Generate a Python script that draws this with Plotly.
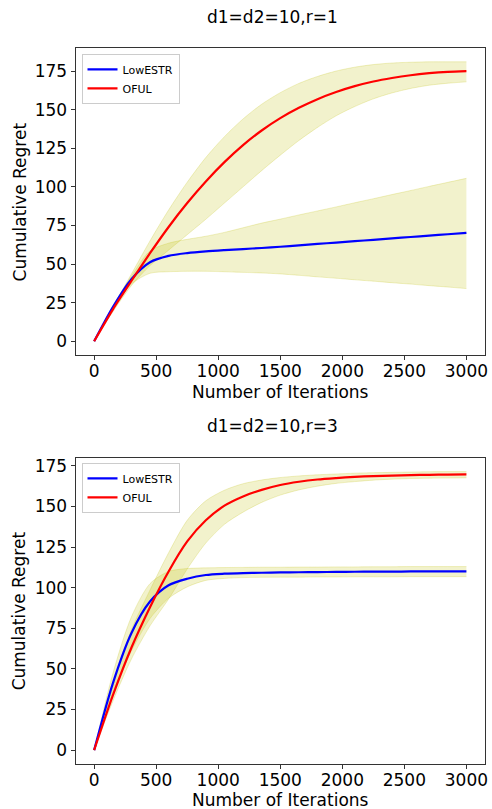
import plotly.graph_objects as go

# ---------------- data ----------------
iters = [0, 150, 300, 450, 600, 750, 900, 1050, 1200, 1350, 1500,
         1650, 1800, 1950, 2100, 2250, 2400, 2550, 2700, 2850, 3000]

# r = 1
lowestr_r1 = [0, 22, 40.2, 51.2, 55.3, 57.1, 58.2, 59, 59.7, 60.4, 61.2,
              62.1, 63, 63.9, 64.8, 65.7, 66.6, 67.5, 68.4, 69.3, 70.2]
lowestr_r1_hi = [0, 23, 42, 58.5, 63.5, 66, 68, 70.5, 73.5, 76.5, 79.1,
                 81.8, 84.4, 87, 89.7, 92.3, 95, 97.6, 100.3, 102.9, 105.5]
lowestr_r1_lo = [0, 21, 37, 44, 45, 45.3, 45.3, 45, 44.6, 44.2, 43.6,
                 42.7, 41.7, 40.8, 39.8, 38.9, 37.9, 37, 36, 35.1, 34.1]
oful_r1 = [0, 20.5, 39, 57, 74, 89.5, 103.5, 116, 127, 136.5, 144.5,
           151.2, 156.8, 161.4, 165.2, 168.2, 170.5, 172.3, 173.6, 174.5, 175]
oful_r1_hi = [0, 22, 43.5, 65, 85, 103, 119, 132.5, 144, 153.5, 161,
              167, 171.5, 175, 177.5, 179.2, 180.2, 180.7, 181, 181, 181]
oful_r1_lo = [0, 19, 36, 49, 59, 69, 79, 89.5, 100, 110.5, 120.5,
              130, 138.5, 146, 152, 157, 160.8, 163.7, 165.8, 167.1, 168]

# r = 3
lowestr_r3 = [0, 41, 72, 91.5, 101.5, 105.5, 107.8, 108.6, 109, 109.2, 109.4,
              109.5, 109.6, 109.7, 109.8, 109.9, 109.9, 110, 110, 110, 110]
lowestr_r3_hi = [0, 47, 82, 102.5, 110, 111.8, 112.2, 112.4, 112.5, 112.6, 112.6,
                 112.7, 112.7, 112.8, 112.8, 112.9, 112.9, 113, 113, 113, 113]
lowestr_r3_lo = [0, 35, 61, 81, 93.5, 100.5, 104.5, 105.7, 106.2, 106.4, 106.5,
                 106.5, 106.6, 106.6, 106.7, 106.7, 106.7, 106.8, 106.8, 106.8, 106.8]
oful_r3 = [0, 33.5, 63, 88, 110, 128.5, 141.5, 150.5, 156.2, 160.2, 163.2,
           165.2, 166.6, 167.5, 168.2, 168.7, 169, 169.3, 169.5, 169.6, 169.7]
oful_r3_hi = [0, 39, 74, 98.5, 121.5, 141.5, 153.5, 160, 164, 166.3, 167.8,
              168.8, 169.5, 170, 170.5, 170.8, 171, 171.2, 171.4, 171.5, 171.5]
oful_r3_lo = [0, 30, 56, 76.5, 93, 111.5, 127.5, 139, 146.5, 152.5, 157,
              160.2, 162.5, 164.2, 165.3, 166.2, 166.8, 167.2, 167.4, 167.5, 167.6]

titles = ["d1=d2=10,r=1", "d1=d2=10,r=3"]
x_title = "Number of Iterations"
y_title = "Cumulative Regret"
names = ["LowESTR", "OFUL"]
x_ticks = [0, 500, 1000, 1500, 2000, 2500, 3000]
y_ticks = [0, 25, 50, 75, 100, 125, 150, 175]

# ---------------- figure ----------------
W, H = 492, 809
BAND = "rgba(191,191,0,0.2)"
BAND_EDGE = "rgba(191,191,0,0.22)"
FONT = "DejaVu Sans"

fig = go.Figure()

panels = [
    dict(xa="x", ya="y", legend="legend",
         series=[(lowestr_r1, lowestr_r1_hi, lowestr_r1_lo, "blue"),
                 (oful_r1, oful_r1_hi, oful_r1_lo, "red")]),
    dict(xa="x2", ya="y2", legend="legend2",
         series=[(lowestr_r3, lowestr_r3_hi, lowestr_r3_lo, "blue"),
                 (oful_r3, oful_r3_hi, oful_r3_lo, "red")]),
]

for p in panels:
    for mean, hi, lo, col in p["series"]:
        fig.add_trace(go.Scatter(x=iters, y=lo, mode="lines",
                                 line=dict(color=BAND_EDGE, width=1, shape="spline", smoothing=0.8),
                                 xaxis=p["xa"], yaxis=p["ya"], showlegend=False, hoverinfo="skip"))
        fig.add_trace(go.Scatter(x=iters, y=hi, mode="lines",
                                 line=dict(color=BAND_EDGE, width=1, shape="spline", smoothing=0.8),
                                 fill="tonexty", fillcolor=BAND,
                                 xaxis=p["xa"], yaxis=p["ya"], showlegend=False, hoverinfo="skip"))
    for (mean, hi, lo, col), nm in zip(p["series"], names):
        fig.add_trace(go.Scatter(x=iters, y=mean, mode="lines", name=nm,
                                 line=dict(color=col, width=2.2, shape="spline", smoothing=0.8),
                                 xaxis=p["xa"], yaxis=p["ya"], legend=p["legend"]))

axis_common = dict(showline=True, linecolor="#333333", linewidth=1, mirror=True,
                   ticks="outside", ticklen=4, tickcolor="#333333", showgrid=False, zeroline=False,
                   tickfont=dict(family=FONT, size=17, color="black"))
xaxis_extra = dict(ticklabelstandoff=-4)

xdom = [76 / W, 488 / W]
leg_common = dict(xanchor="left", yanchor="top", traceorder="normal",
                  bgcolor="rgba(255,255,255,0.8)", bordercolor="#cccccc", borderwidth=1,
                  font=dict(family=FONT, size=11, color="black"), itemwidth=30, tracegroupgap=0)
fig.update_layout(
    width=W, height=H,
    margin=dict(l=0, r=0, t=0, b=0),
    paper_bgcolor="white", plot_bgcolor="white",
    font=dict(family=FONT, color="black"),
    xaxis=dict(domain=xdom, range=[-150, 3150], tickvals=x_ticks, anchor="y", **axis_common, **xaxis_extra),
    yaxis=dict(domain=[1 - 354 / H, 1 - 46 / H], range=[-9, 190], tickvals=y_ticks, anchor="x", **axis_common),
    xaxis2=dict(domain=xdom, range=[-150, 3150], tickvals=x_ticks, anchor="y2", **axis_common, **xaxis_extra),
    yaxis2=dict(domain=[1 - 764 / H, 1 - 456.7 / H], range=[-8.6, 180.1], tickvals=y_ticks, anchor="x2", **axis_common),
    legend=dict(x=82 / W, y=1 - 52 / H, **leg_common),
    legend2=dict(x=82 / W, y=1 - 462 / H, **leg_common),
)

ann = []
for t, ypx in zip(titles, [15, 425]):
    ann.append(dict(text=t, x=274 / W, y=1 - ypx / H, xref="paper", yref="paper",
                    showarrow=False, xanchor="center", yanchor="middle",
                    font=dict(family=FONT, size=17, color="black")))
for ypx in [391, 800]:
    ann.append(dict(text=x_title, x=282 / W, y=1 - ypx / H, xref="paper", yref="paper",
                    showarrow=False, xanchor="center", yanchor="middle",
                    font=dict(family=FONT, size=17, color="black")))
for ypx in [200, 610]:
    ann.append(dict(text=y_title, x=20 / W, y=1 - ypx / H, xref="paper", yref="paper",
                    showarrow=False, xanchor="center", yanchor="middle", textangle=-90,
                    font=dict(family=FONT, size=17, color="black")))
fig.update_layout(annotations=ann)

fig.write_html("out.html", config={"displayModeBar": False},
               post_script="document.body.style.margin='0px';")
